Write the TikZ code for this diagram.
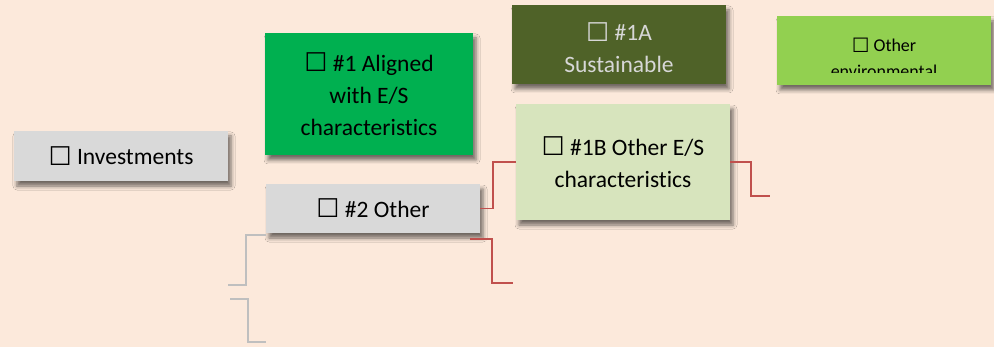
\documentclass[tikz,border=0pt]{standalone}
\usepackage{fontspec}
\setmainfont[Ligatures={NoCommon}]{Carlito}
\newfontfamily\symfont{DejaVu Sans}
\usetikzlibrary{shadows.blur}
\definecolor{bgpeach}{RGB}{252,233,219}
\definecolor{boxgray}{RGB}{217,217,217}
\definecolor{greenA}{RGB}{0,176,80}
\definecolor{olive}{RGB}{79,98,40}
\definecolor{palegreen}{RGB}{215,228,189}
\definecolor{limegreen}{RGB}{146,208,80}
\definecolor{linkred}{RGB}{192,80,77}
\definecolor{linkgray}{RGB}{191,191,191}
\definecolor{lighttext}{RGB}{215,215,215}
\newcommand\bx{{\symfont\raisebox{-0.5pt}{\scalebox{1.1}{☐}}}}
\tikzset{
  cell/.style={rectangle, inner sep=2pt, align=center,
    font=\fontsize{23.5}{32}\selectfont,
    blur shadow={shadow xshift=3pt, shadow yshift=-5pt, shadow blur radius=4pt, shadow opacity=55}},
  redlink/.style={draw=linkred, line width=1.6pt},
  graylink/.style={draw=linkgray, line width=1.6pt}
}
\begin{document}
\begin{tikzpicture}[x=1pt,y=-1pt]
\fill[bgpeach] (0,0) rectangle (994,347);
\useasboundingbox (0,0) rectangle (994,347);
\node[cell, fill=boxgray, minimum width=214, minimum height=50] (inv) at (121,156) {\bx\ Investments};
\node[cell, fill=greenA, minimum width=208, minimum height=122] (one) at (369,94) {\bx\ \#1 Aligned\\with E/S\\characteristics};
\node[cell, fill=boxgray, minimum width=214, minimum height=49] (two) at (373,208.5) {\bx\ \#2 Other};
\node[cell, fill=olive, minimum width=214, minimum height=79] (onea) at (619,44.5) {};
\node[font=\fontsize{23.5}{32}\selectfont, text=lighttext, align=center, anchor=base] (oneat) at (619,73) {\bx\ \#1A\\Sustainable};
\node[cell, fill=palegreen, minimum width=214, minimum height=116] (oneb) at (623,162) {\bx\ \#1B Other E/S\\characteristics};
\node[cell, fill=limegreen, minimum width=214, minimum height=69] (oth) at (884,50.5) {};
\begin{scope}
\clip (777,16) rectangle (991,73);
\node[font=\fontsize{18}{26}\selectfont, align=center, anchor=base] (otht) at (884,78) {\bx\ Other\\environmental};
\end{scope}
\coordinate (r2s) at (470,239);
\coordinate (r2e) at (513,283);
\coordinate (r3e) at (770,196);
\coordinate (g1s) at (228,285);
\coordinate (g1e) at (266,235);
\coordinate (g2s) at (230,299);
\coordinate (g2e) at (266,342);
\draw[redlink] (two.east) -- ++(13,0) |- (oneb.west);
\draw[redlink] (r2s) -- ++(22,0) |- (r2e);
\draw[redlink] (oneb.east) -- ++(21,0) |- (r3e);
\draw[graylink] (g1s) -- ++(18,0) |- (g1e);
\draw[graylink] (g2s) -- ++(18,0) |- (g2e);
\end{tikzpicture}
\end{document}
